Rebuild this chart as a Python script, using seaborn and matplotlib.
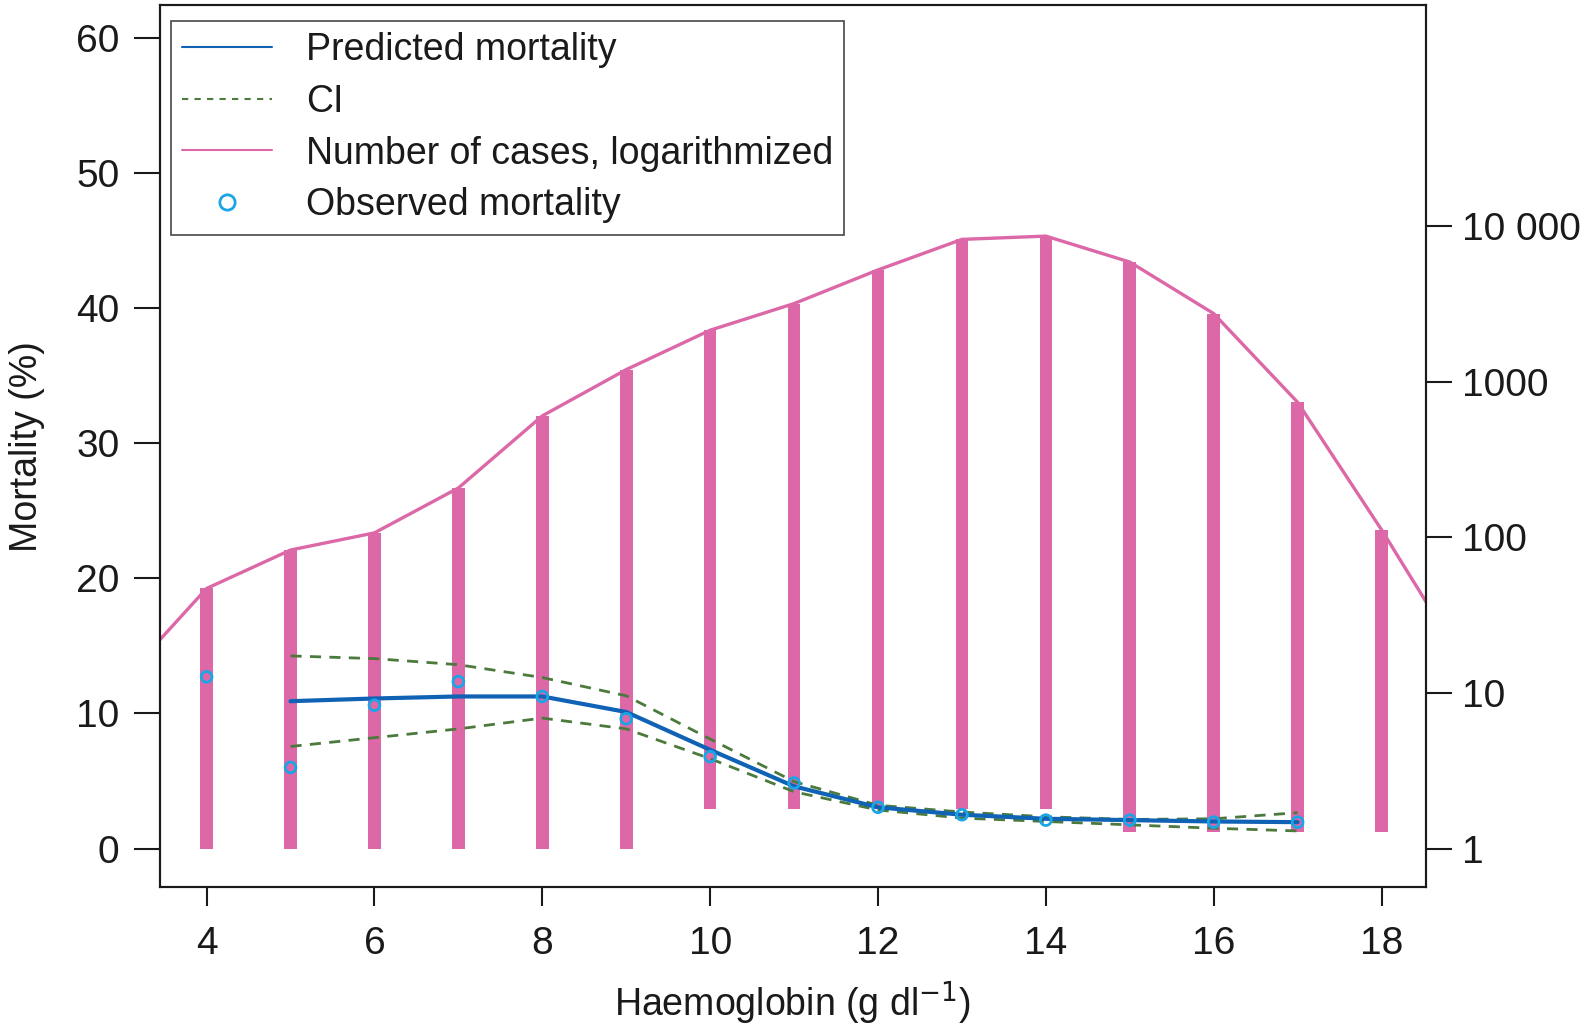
import numpy as np
import pandas as pd
import seaborn as sns
import matplotlib.pyplot as plt
from matplotlib.lines import Line2D

sns.set_theme(style="white")
plt.rcParams["font.family"] = ["Liberation Sans", "DejaVu Sans"]

# haemoglobin levels with bars
hb_bars = [4, 5, 6, 7, 8, 9, 10, 11, 12, 13, 14, 15, 16, 17, 18]
cases_top = [47, 83, 107, 208, 605, 1200, 2150, 3190, 5250, 8250, 8660, 5900, 2750, 740, 112]
cases_bottom = [1, 1, 1, 1, 1, 1, 1.8, 1.8, 1.8, 1.8, 1.8, 1.27, 1.27, 1.27, 1.27]

# log-cases line (runs past the plot edges)
hb_line = [3, 4, 5, 6, 7, 8, 9, 10, 11, 12, 13, 14, 15, 16, 17, 18, 19]
cases_line = [12, 47, 83, 107, 208, 605, 1200, 2150, 3190, 5250, 8250, 8660, 5900, 2750, 740, 112, 15]

# predicted mortality and CI
hb_pred = [5, 6, 7, 8, 9, 10, 11, 12, 13, 14, 15, 16, 17]
pred = [10.9, 11.1, 11.25, 11.25, 10.1, 7.3, 4.6, 3.05, 2.5, 2.2, 2.1, 2.0, 1.95]
ci_upper = [14.25, 14.05, 13.6, 12.65, 11.3, 8.1, 4.95, 3.2, 2.7, 2.35, 2.15, 2.2, 2.65]
ci_lower = [7.55, 8.2, 8.85, 9.65, 8.85, 6.65, 4.2, 2.85, 2.25, 2.0, 1.75, 1.5, 1.3]

# observed mortality
hb_obs = [4, 5, 6, 7, 8, 9, 10, 11, 12, 13, 14, 15, 16, 17]
obs = [12.7, 6.0, 10.6, 12.35, 11.25, 9.6, 6.8, 4.85, 3.05, 2.5, 2.1, 2.1, 1.95, 1.95]

pink = "#dc68a8"
blue = "#0f62b4"
green = "#4b7a3c"
cyan = "#1aa6e6"
ink = "#1a1a1a"

fig = plt.figure(figsize=(15.96, 10.28), dpi=100)
ax = fig.add_axes([0.100, 0.137, 0.7935, 0.858])
ax2 = ax.twinx()

# counts on the right (log) axis
bars = pd.DataFrame({"hb": hb_bars, "top": cases_top, "bottom": cases_bottom})
ax2.bar(bars["hb"], bars["top"] - bars["bottom"], bottom=bars["bottom"],
        width=0.15, color=pink, linewidth=0)
sns.lineplot(x=hb_line, y=cases_line, ax=ax2, color=pink, linewidth=2.4)
ax2.set_yscale("log")

# mortality on the left axis, drawn above the bars
sns.lineplot(x=hb_pred, y=ci_upper, ax=ax, color=green, linewidth=2, linestyle=(0, (4, 3)))
sns.lineplot(x=hb_pred, y=ci_lower, ax=ax, color=green, linewidth=2, linestyle=(0, (4, 3)))
sns.lineplot(x=hb_pred, y=pred, ax=ax, color=blue, linewidth=3)
ax.scatter(hb_obs, obs, s=60, facecolors="none", edgecolors=cyan, linewidths=2, zorder=5)
ax.set_zorder(ax2.get_zorder() + 1)
ax.patch.set_visible(False)

ylim = (-2.86, 62.4)
k = 0.0869
ax.set_ylim(ylim)
ax2.set_ylim(10 ** (ylim[0] * k), 10 ** (ylim[1] * k))
ax.set_xlim(3.44, 18.53)

ax.set_xticks(range(4, 19, 2))
ax.set_yticks(range(0, 61, 10))
ax2.set_yticks([1, 10, 100, 1000, 10000])
ax2.set_yticklabels(["1", "10", "100", "1000", "10 000"])
ax2.minorticks_off()

ax.tick_params(axis="y", labelsize=28, length=19, width=1.5, direction="out",
               colors=ink, pad=10, left=True)
ax.tick_params(axis="x", labelsize=28, length=14, width=1.5, direction="out",
               colors=ink, pad=14, bottom=True)
ax2.tick_params(axis="y", labelsize=28, length=19, width=1.5, direction="out",
                colors=ink, pad=7)
for a in (ax, ax2):
    for s in a.spines.values():
        s.set_color(ink)
        s.set_linewidth(1.5)

ax.set_xlabel("Haemoglobin (g dl$^{-1}$)", fontsize=27, labelpad=12, color=ink)
ax.set_ylabel("Mortality (%)", fontsize=27, labelpad=22, color=ink)
ax2.set_ylabel("")

handles = [
    Line2D([], [], color=blue, linewidth=1.5),
    Line2D([], [], color=green, linewidth=1.5, linestyle=(0, (3, 3))),
    Line2D([], [], color=pink, linewidth=1.5),
    Line2D([], [], marker="o", linestyle="none", markerfacecolor="none",
           markeredgecolor=cyan, markeredgewidth=2, markersize=11),
]
labels = ["Predicted mortality", "CI", "Number of cases, logarithmized", "Observed mortality"]
leg = ax.legend(handles, labels, loc="upper left", fontsize=27, frameon=True, fancybox=False,
                borderaxespad=0.3, borderpad=0.3, handlelength=2.4, handletextpad=0.9,
                labelspacing=0.42, bbox_to_anchor=(0.0, 0.995))
for t in leg.get_texts():
    t.set_color(ink)
leg.get_frame().set_edgecolor(ink)
leg.get_frame().set_linewidth(1.2)

fig.savefig("out.png", dpi=100)
